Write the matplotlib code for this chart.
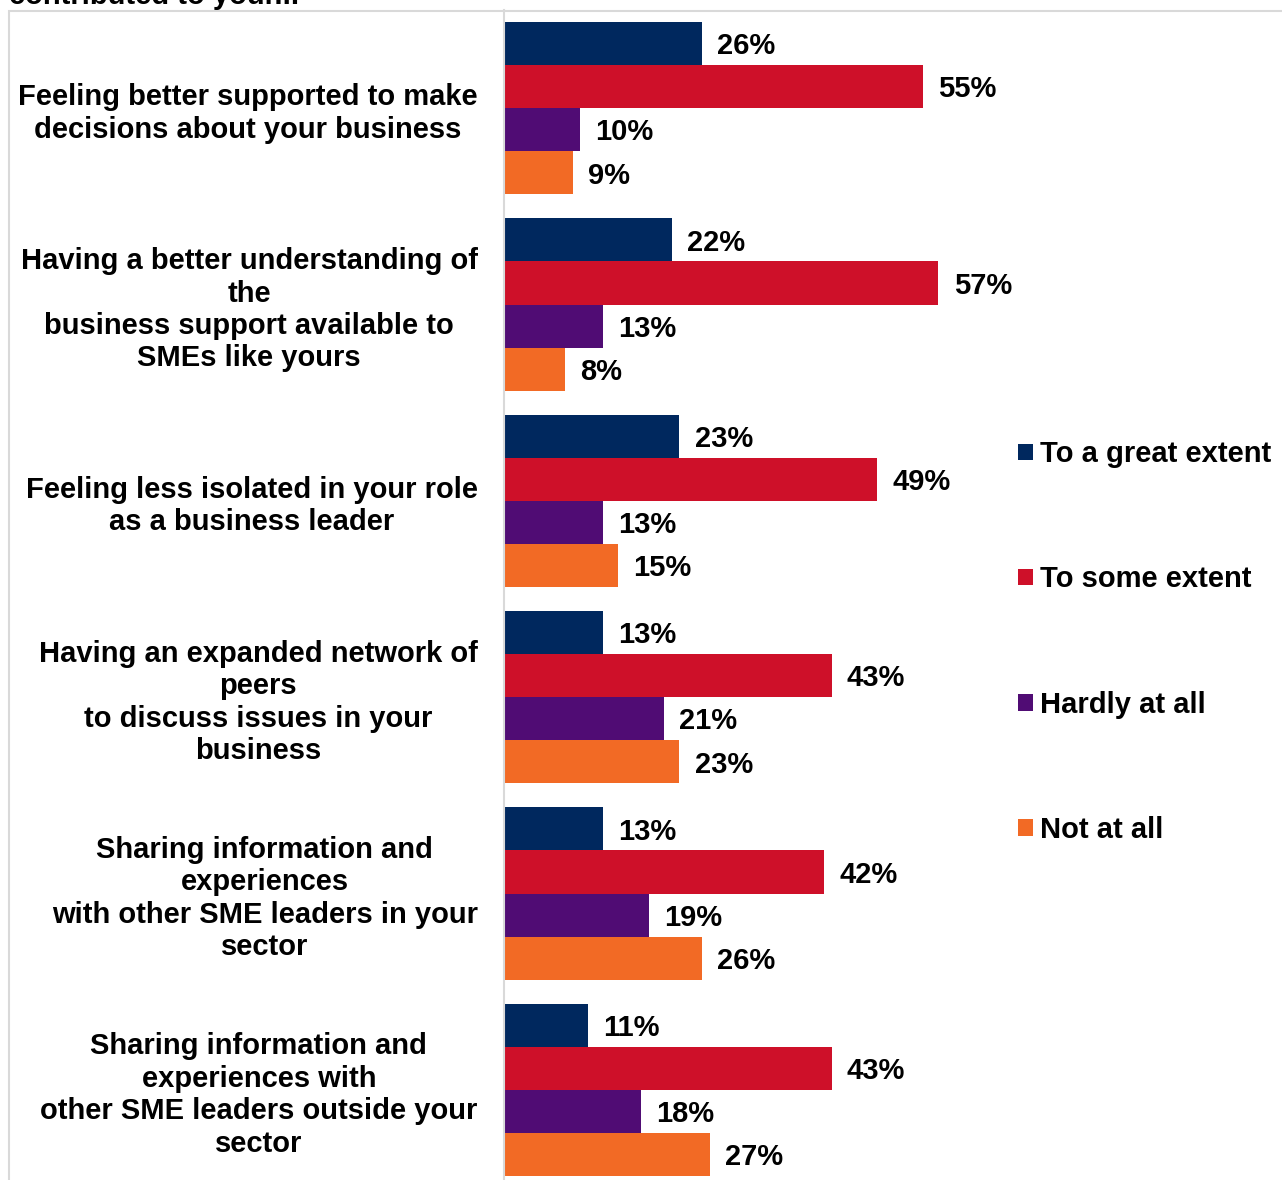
import numpy as np
import matplotlib
matplotlib.use('Agg')
import matplotlib.pyplot as plt
from matplotlib.patches import Rectangle

plt.rcParams['font.family'] = ['Liberation Sans', 'DejaVu Sans']
plt.rcParams['font.weight'] = 'bold'

categories = [
    "Feeling better supported to make\ndecisions about your business",
    "Having a better understanding of\nthe\nbusiness support available to\nSMEs like yours",
    "Feeling less isolated in your role\nas a business leader",
    "Having an expanded network of\npeers\nto discuss issues in your\nbusiness",
    "Sharing information and\nexperiences\nwith other SME leaders in your\nsector",
    "Sharing information and\nexperiences with\nother SME leaders outside your\nsector",
]
series = ["To a great extent", "To some extent", "Hardly at all", "Not at all"]
great = [26, 22, 23, 13, 13, 11]
some = [55, 57, 49, 43, 42, 43]
hardly = [10, 13, 13, 21, 19, 18]
notatall = [9, 8, 15, 23, 26, 27]
colors = ['#00285E', '#CE1029', '#500C74', '#F26A25']

W, H = 1282, 1180
fig = plt.figure(figsize=(W / 100, H / 100), dpi=100)

# outer light frame (cropped screenshot)
fig.patches.append(Rectangle((8.5 / W, -0.1), 1.2, 1.1 - 10.5 / H,
                             transform=fig.transFigure, fill=False,
                             edgecolor='#D9D9D9', lw=1.5, zorder=0))
# title cut off at the top edge, as in the screenshot
fig.text(9 / W, 1 - 4 / H, "contributed to your...", fontsize=21,
         fontweight='bold', va='baseline', ha='left')

ax_l, ax_r = 504, 1000
ax_top, ax_bot = 10, 1188
ax = fig.add_axes([ax_l / W, (H - ax_bot) / H, (ax_r - ax_l) / W, (ax_bot - ax_top) / H])

y = np.arange(len(categories))
h = 43 / 196
vals = [great, some, hardly, notatall]
for i, (v, c, lab) in enumerate(zip(vals, colors, series)):
    bars = ax.barh(y + (i - 1.5) * h, v, height=h, color=c, label=lab)
    txts = ax.bar_label(bars, labels=[f"{x}%" for x in v], padding=11,
                        fontsize=21, fontweight='bold')
    for t in txts:
        t.xyann = (11, -2)

ax.set_xlim(0, (ax_r - ax_l) / 7.62)
ax.set_ylim(len(categories) - 0.5, -0.5)
ax.set_yticks(y)
ax.set_yticklabels(categories, fontsize=21, fontweight='bold',
                   multialignment='center', linespacing=1.2)
ax.tick_params(axis='y', length=0, pad=19)
ax.set_xticks([])
for s in ['top', 'right', 'bottom']:
    ax.spines[s].set_visible(False)
ax.spines['left'].set_color('#D9D9D9')
ax.spines['left'].set_linewidth(1.5)
ax.set_facecolor('none')

fig.legend(loc='center left', bbox_to_anchor=(1018 / W, 1 - 642 / H),
           frameon=False, fontsize=21, handlelength=0.5, handleheight=0.5,
           handletextpad=0.25, labelspacing=3.33, borderpad=0, borderaxespad=0)

fig.savefig('out.png', dpi=100)
